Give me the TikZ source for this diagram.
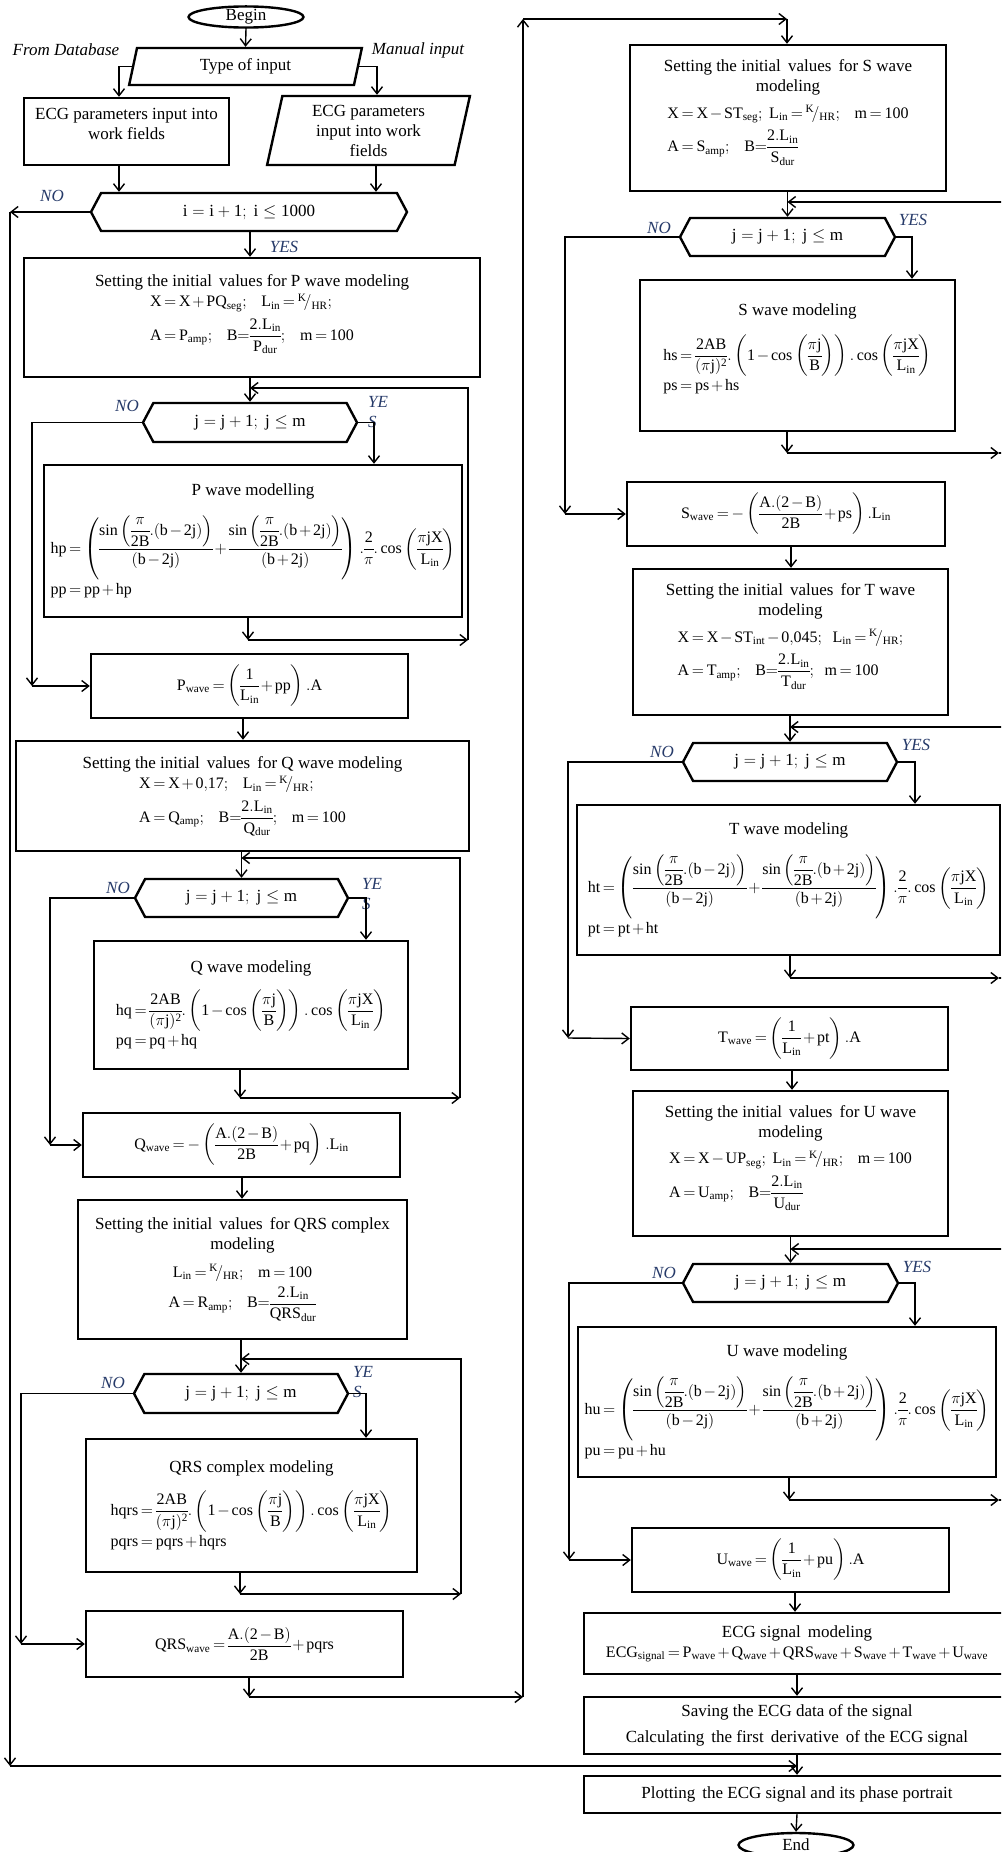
\RequirePackage{fix-cm}
\documentclass[tikz,border=0pt]{standalone}
\usepackage{amsmath}
\usepackage{fontspec}
\setmainfont{Liberation Serif}
\usetikzlibrary{arrows.meta, shapes.geometric, shapes.symbols, positioning, calc}
\definecolor{LabBlue}{RGB}{38,58,105}
\medmuskip=2mu plus 1mu minus 1mu
\thickmuskip=3mu plus 2mu
\nulldelimiterspace=0pt

\newcommand{\fm}[1]{{\fontsize{16}{19}\selectfont$\mathrm{#1}$}}
\newcommand{\fmw}[1]{{\fontsize{17}{20}\selectfont\medmuskip=4mu\thickmuskip=5mu$\mathrm{#1}$}}
\newcommand{\KHR}{{}^{\mathrm{K}}\!/_{\mathrm{HR}}}
\newcommand{\sinwave}[1]{\fm{#1 = \left(\dfrac{\sin\left(\dfrac{\pi}{2B}.(b-2j)\right)}{(b-2j)}+\dfrac{\sin\left(\dfrac{\pi}{2B}.(b+2j)\right)}{(b+2j)}\right).\dfrac{2}{\pi}.\cos\left(\dfrac{\pi jX}{L_{in}}\right)}}
\newcommand{\coswave}[1]{\fm{#1 = \dfrac{2AB}{(\pi j)^{2}}.\left(1-\cos\left(\dfrac{\pi j}{B}\right)\right).\cos\left(\dfrac{\pi jX}{L_{in}}\right)}}

\begin{document}
\begin{tikzpicture}[x=1pt, y=-1pt,
  font=\fontsize{17}{20}\selectfont,
  box/.style={draw, line width=2.4pt, rectangle, inner sep=2pt, align=center},
  hexa/.style={draw, line width=2.4pt, signal, signal to=east and west,
    signal pointer angle=124, inner sep=0pt},
  para/.style={draw, line width=2.4pt, trapezium, trapezium stretches=true,
    inner sep=0pt, align=center},
  term/.style={draw, line width=2.4pt, ellipse, inner sep=0pt},
  arr/.style={-{Straight Barb[length=7pt,width=11pt]}, line width=1.4pt},
  lab/.style={font=\fontsize{17}{20}\selectfont\itshape, inner sep=0pt},
  yn/.style={lab, text=LabBlue, align=left}]

\useasboundingbox (0,0) rectangle (1001,1852);
\clip (0,0) rectangle (1001,1852);

% input
\node[term, minimum width=115, minimum height=20] (begin) at (246,17) {Begin};
\node[para, trapezium left angle=78, trapezium right angle=102,
  minimum width=233, minimum height=37] (type) at (245.5,66.5) {Type of input};
\node[lab] (fromdb) at (66,50) {From Database};
\node[lab] (manual) at (418,50) {Manual input};
\node[box, minimum width=205, minimum height=67] (lbox) at (126.5,131.5)
  {ECG parameters input into\\work fields\\[-4pt]};
\node[para, trapezium left angle=79, trapezium right angle=101,
  minimum width=203, minimum height=69] (rpar) at (368.5,130.5)
  {ECG parameters\\input into work\\fields};
\node[hexa, minimum width=316, minimum height=38] (hexI) at (249,212)
  {\fmw{i = i + 1;\ i \le 1000}};

% P wave
\node[box, minimum width=456, minimum height=119] (pinit) at (252,317.5)
  {Setting the initial\, values for P wave modeling\\[2pt]
   \begin{tabular}{@{}l@{}}
   \fm{X = X + PQ_{seg};\ \ \ L_{in} = \KHR;}\\[6pt]
   \fm{A = P_{amp};\ \ \ B{=}\dfrac{2.L_{in}}{P_{dur}};\ \ \ m = 100}
   \end{tabular}\\[6pt]};
\node[hexa, minimum width=214, minimum height=39] (hexP) at (250,422.5)
  {\fmw{j = j + 1;\ j \le m}};
\node[box, minimum width=418, minimum height=152] (pmod) at (253,541)
  {\begin{tabular}{@{}l@{}}
   \multicolumn{1}{@{}c@{}}{P wave modelling}\\[14pt]
   \sinwave{hp}\\[4pt]
   \fm{pp = pp + hp}
   \end{tabular}};
\node[box, minimum width=317, minimum height=64] (pwave) at (249.5,686)
  {\fm{P_{wave} = \left(\dfrac{1}{L_{in}} + pp\right).A}};

% Q wave
\node[box, minimum width=453, minimum height=110] (qinit) at (242.5,796)
  {Setting the initial\, values\, for Q wave modeling\\[2pt]
   \begin{tabular}{@{}l@{}}
   \fm{X = X + 0{,}17;\ \ \ L_{in} = \KHR;}\\[6pt]
   \fm{A = Q_{amp};\ \ \ B{=}\dfrac{2.L_{in}}{Q_{dur}};\ \ \ m = 100}
   \end{tabular}};
\node[hexa, minimum width=213, minimum height=38] (hexQ) at (241.5,898)
  {\fmw{j = j + 1;\ j \le m}};
\node[box, minimum width=314, minimum height=128] (qmod) at (251,1005)
  {\begin{tabular}{@{}l@{}}
   \multicolumn{1}{@{}c@{}}{Q wave modeling}\\[12pt]
   \coswave{hq}\\[4pt]
   \fm{pq = pq + hq}
   \end{tabular}};
\node[box, minimum width=317, minimum height=64] (qwave) at (241.5,1145)
  {\fm{Q_{wave} = -\left(\dfrac{A.(2-B)}{2B} + pq\right).L_{in}}};

% QRS complex
\node[box, minimum width=329, minimum height=139] (qrsinit) at (242.5,1269.5)
  {Setting the initial\, values\, for QRS complex\\ modeling\\[8pt]
   \fm{L_{in} = \KHR;\ \ \ m = 100}\\[4pt]
   \fm{A = R_{amp};\ \ \ B{=}\dfrac{2.L_{in}}{QRS_{dur}}}};
\node[hexa, minimum width=214, minimum height=39] (hexQRS) at (241,1393.5)
  {\fmw{j = j + 1;\ j \le m}};
\node[box, minimum width=331, minimum height=133] (qrsmod) at (251.5,1505.5)
  {\begin{tabular}{@{}l@{}}
   \multicolumn{1}{@{}c@{}}{QRS complex modeling}\\[12pt]
   \coswave{hqrs}\\[4pt]
   \fm{pqrs = pqrs + hqrs}
   \end{tabular}};
\node[box, minimum width=317, minimum height=66] (qrswave) at (244.5,1644)
  {\fm{QRS_{wave} = \dfrac{A.(2-B)}{2B} + pqrs}};

% S wave
\node[box, minimum width=316, minimum height=146] (sinit) at (788,118)
  {Setting the initial\, values\, for S wave\\ modeling\\[8pt]
   \begin{tabular}{@{}l@{}}
   \fm{X = X - ST_{seg};\ L_{in} = \KHR;\ \ \ m = 100}\\[6pt]
   \fm{A = S_{amp};\ \ \ B{=}\dfrac{2.L_{in}}{S_{dur}}}
   \end{tabular}\\[10pt]};
\node[hexa, minimum width=215, minimum height=38] (hexS) at (787.5,237)
  {\fmw{j = j + 1;\ j \le m}};
\node[box, minimum width=315, minimum height=151] (smod) at (797.5,355.5)
  {\begin{tabular}{@{}l@{}}
   \multicolumn{1}{@{}c@{}}{S wave modeling}\\[14pt]
   \coswave{hs}\\[4pt]
   \fm{ps = ps + hs}
   \end{tabular}\\[12pt]};
\node[box, minimum width=318, minimum height=64] (swave) at (786,514)
  {\fm{S_{wave} = -\left(\dfrac{A.(2-B)}{2B} + ps\right).L_{in}}};

% T wave
\node[box, minimum width=315, minimum height=146] (tinit) at (790.5,642)
  {Setting the initial\, values\, for T wave\\ modeling\\[8pt]
   \begin{tabular}{@{}l@{}}
   \fm{X = X - ST_{int} - 0{,}045;\ \ L_{in} = \KHR;}\\[6pt]
   \fm{A = T_{amp};\ \ \ B{=}\dfrac{2.L_{in}}{T_{dur}};\ \ m = 100}
   \end{tabular}\\[10pt]};
\node[hexa, minimum width=214, minimum height=38] (hexT) at (790,762)
  {\fmw{j = j + 1;\ j \le m}};
\node[box, minimum width=423, minimum height=150] (tmod) at (788.5,880)
  {\begin{tabular}{@{}l@{}}
   \multicolumn{1}{@{}c@{}}{T wave modeling}\\[14pt]
   \sinwave{ht}\\[4pt]
   \fm{pt = pt + ht}
   \end{tabular}};
\node[box, minimum width=317, minimum height=63] (twave) at (789.5,1038.5)
  {\fm{T_{wave} = \left(\dfrac{1}{L_{in}} + pt\right).A}};

% U wave
\node[box, minimum width=315, minimum height=145] (uinit) at (790.5,1163.5)
  {Setting the initial\, values\, for U wave\\ modeling\\[8pt]
   \begin{tabular}{@{}l@{}}
   \fm{X = X - UP_{seg};\ L_{in} = \KHR;\ \ \ m = 100}\\[6pt]
   \fm{A = U_{amp};\ \ \ B{=}\dfrac{2.L_{in}}{U_{dur}}}
   \end{tabular}\\[10pt]};
\node[hexa, minimum width=215, minimum height=38] (hexU) at (790.5,1283)
  {\fmw{j = j + 1;\ j \le m}};
\node[box, minimum width=418, minimum height=150] (umod) at (787,1402)
  {\begin{tabular}{@{}l@{}}
   \multicolumn{1}{@{}c@{}}{U wave modeling}\\[14pt]
   \sinwave{hu}\\[4pt]
   \fm{pu = pu + hu}
   \end{tabular}};
\node[box, minimum width=317, minimum height=64] (uwave) at (790.5,1560)
  {\fm{U_{wave} = \left(\dfrac{1}{L_{in}} + pu\right).A}};

% output
\node[box, minimum width=426, minimum height=61] (ecg) at (797,1643.5)
  {ECG signal\, modeling\\
   \fm{ECG_{signal} = P_{wave} + Q_{wave} + QRS_{wave} + S_{wave} + T_{wave} + U_{wave}}};
\node[box, minimum width=426, minimum height=57] (save) at (797,1725.5)
  {Saving the ECG data of the signal\\[6pt]
   Calculating\, the first\, derivative\, of the ECG signal};
\node[box, minimum width=426, minimum height=37] (plot) at (797,1794.5)
  {Plotting\, the ECG signal and its phase portrait};
\node[term, minimum width=115, minimum height=24] (end) at (796,1845) {End};

% labels
\foreach \n/\x/\y in {noI/52/196, noP/127/406, noQ/118/888, noR/113/1383,
  noS/659/228, noT/662/752, noU/664/1273}
  \node[yn] (\n) at (\x,\y) {NO};
\foreach \n/\x/\y in {yesI/284/247, yesS/913/220, yesT/916/745, yesU/917/1267}
  \node[yn] (\n) at (\x,\y) {YES};
\foreach \n/\x/\y in {yeP/368/396, yeQ/362/878, yeR/353/1366}
  \node[yn, anchor=north west] (\n) at (\x,\y) {YE\\S};

% input connectors
\draw[arr] (begin.south) -- (type.north);
\draw[arr] (type.west) -| (lbox.north -| 119,0);
\draw[arr] (type.east) -| (rpar.north -| 377,0);
\draw[arr] (lbox.south -| 119,0) -- (hexI.north -| 119,0);
\draw[arr] (rpar.south -| 376,0) -- (hexI.north -| 376,0);
\coordinate (itop) at (10,212);
\coordinate (ibot) at (10,1766);
\draw[arr] (hexI.west) -- (itop);
\draw[arr] (itop) -- (ibot);
\draw[arr] (ibot) -- (ibot -| plot.north);
\draw[arr] (hexI.south -| 250,0) -- (pinit.north -| 250,0);

% P loop
\draw[arr] (pinit.south -| hexP.north) -- (hexP.north);
\draw[arr] (hexP.east) -| (pmod.north -| 374,0);
\coordinate (pno) at (32,686);
\draw[arr] (hexP.west) -| (pno);
\draw[arr] (pno) -- (pwave.west);
\coordinate (pdn) at (248,640);
\coordinate (prt) at (468,640);
\draw[arr] (pmod.south -| pdn) -- (pdn);
\draw[arr] (pdn) -- (prt);
\draw[arr] (prt) |- (hexP.north |- 0,388);

% Q loop
\draw[arr] (pwave.south -| 243,0) -- (qinit.north -| 243,0);
\draw[arr] (qinit.south -| hexQ.north) -- (hexQ.north);
\draw[arr] (hexQ.east) -| (qmod.north -| 366,0);
\coordinate (qno) at (50,1145);
\draw[arr] (hexQ.west) -| (qno);
\draw[arr] (qno) -- (qwave.west);
\coordinate (qdn) at (240,1098);
\coordinate (qrt) at (460,1098);
\draw[arr] (qmod.south -| qdn) -- (qdn);
\draw[arr] (qdn) -- (qrt);
\draw[arr] (qrt) |- (hexQ.north |- 0,858);

% QRS loop
\draw[arr] (qwave.south -| 242,0) -- (qrsinit.north -| 242,0);
\draw[arr] (qrsinit.south -| hexQRS.north) -- (hexQRS.north);
\draw[arr] (hexQRS.east) -| (qrsmod.north -| 366,0);
\coordinate (rno) at (21,1644);
\draw[arr] (hexQRS.west) -| (rno);
\draw[arr] (rno) -- (qrswave.west);
\coordinate (rdn) at (240,1594);
\coordinate (rrt) at (461,1594);
\draw[arr] (qrsmod.south -| rdn) -- (rdn);
\draw[arr] (rdn) -- (rrt);
\draw[arr] (rrt) |- (hexQRS.north |- 0,1359);

% over to the right column
\coordinate (cdn) at (249,1697);
\coordinate (crt) at (523,1697);
\coordinate (cup) at (523,19);
\coordinate (ctp) at (787,19);
\draw[arr] (qrswave.south -| cdn) -- (cdn);
\draw[arr] (cdn) -- (crt);
\draw[arr] (crt) -- (cup);
\draw[arr] (cup) -- (ctp);
\draw[arr] (ctp) -- (sinit.north -| ctp);

% S loop
\draw[arr] (sinit.south -| hexS.north) -- (hexS.north);
\coordinate (sret) at (1004,202);
\draw[arr] (sret) -- (hexS.north |- sret);
\draw[arr] (hexS.east) -| (smod.north -| 912,0);
\coordinate (sno) at (565,514);
\draw[arr] (hexS.west) -| (sno);
\draw[arr] (sno) -- (swave.west);
\coordinate (sdn) at (787,453);
\coordinate (srt) at (999,453);
\draw[arr] (smod.south -| sdn) -- (sdn);
\draw[arr] (sdn) -- (srt);
\draw[line width=1.4pt] (srt) -| (sret);

% T loop
\draw[arr] (swave.south -| 791,0) -- (tinit.north -| 791,0);
\draw[arr] (tinit.south -| hexT.north) -- (hexT.north);
\coordinate (tret) at (1004,727);
\draw[arr] (tret) -- (hexT.north |- tret);
\draw[arr] (hexT.east) -| (tmod.north -| 915,0);
\coordinate (tno) at (568,1038);
\draw[arr] (hexT.west) -| (tno);
\draw[arr] (tno) -- (twave.west);
\coordinate (tdn) at (790,978);
\coordinate (trt) at (999,978);
\draw[arr] (tmod.south -| tdn) -- (tdn);
\draw[arr] (tdn) -- (trt);
\draw[line width=1.4pt] (trt) -| (tret);

% U loop
\draw[arr] (twave.south -| 792,0) -- (uinit.north -| 792,0);
\draw[arr] (uinit.south -| hexU.north) -- (hexU.north);
\coordinate (uret) at (1004,1249);
\draw[arr] (uret) -- (hexU.north |- uret);
\draw[arr] (hexU.east) -| (umod.north -| 915,0);
\coordinate (uno) at (569,1560);
\draw[arr] (hexU.west) -| (uno);
\draw[arr] (uno) -- (uwave.west);
\coordinate (udn) at (789,1500);
\coordinate (urt) at (999,1500);
\draw[arr] (umod.south -| udn) -- (udn);
\draw[arr] (udn) -- (urt);
\draw[line width=1.4pt] (urt) -| (uret);

% output connectors
\draw[arr] (uwave.south -| 795,0) -- (ecg.north -| 795,0);
\draw[arr] (ecg.south) -- (save.north);
\draw[arr] (save.south) -- (plot.north);
\draw[arr] (plot.south) -- (end.north);
\end{tikzpicture}
\end{document}
